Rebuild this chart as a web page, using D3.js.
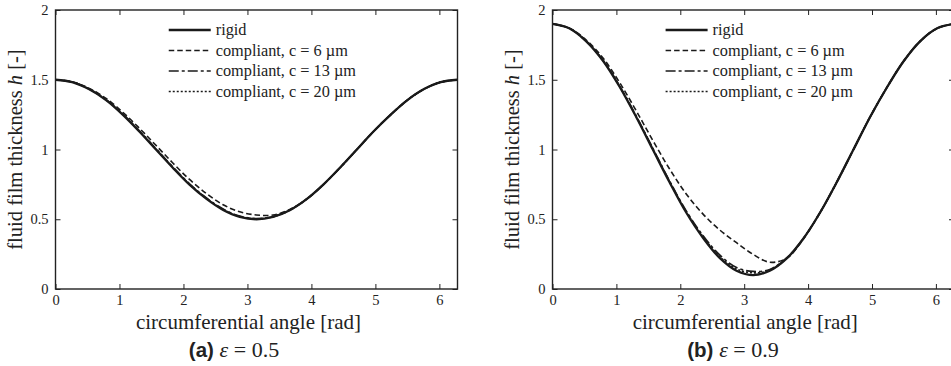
<!DOCTYPE html>
<html>
<head>
<meta charset="utf-8">
<script src="https://cdn.jsdelivr.net/npm/d3@7"></script>
<style>
  body { margin: 0; background: #fff; }
  svg { display: block; }
</style>
</head>
<body>
<svg id="chart" width="951" height="366"></svg>
<script>
// angle grid [rad], read at ~pi/12 steps
const theta = [0, 0.26, 0.52, 0.79, 1.05, 1.31, 1.57, 1.83, 2.09, 2.36, 2.62, 2.88, 3.14,
  3.40, 3.67, 3.93, 4.19, 4.45, 4.71, 4.97, 5.24, 5.50, 5.76, 6.02, 6.28];

// (a) eps = 0.5
const rigidA = [1.5, 1.483, 1.433, 1.354, 1.25, 1.129, 1.0, 0.871, 0.75, 0.646, 0.567, 0.517, 0.5,
  0.517, 0.567, 0.646, 0.75, 0.871, 1.0, 1.129, 1.25, 1.354, 1.433, 1.483, 1.5];
const c6A = [1.5, 1.486, 1.440, 1.366, 1.268, 1.153, 1.030, 0.905, 0.787, 0.684, 0.604, 0.553, 0.531,
  0.530, 0.572, 0.646, 0.75, 0.871, 1.0, 1.129, 1.25, 1.354, 1.433, 1.483, 1.5];
const c13A = [1.5, 1.484, 1.436, 1.358, 1.255, 1.134, 1.006, 0.877, 0.756, 0.652, 0.573, 0.522, 0.505,
  0.519, 0.568, 0.646, 0.75, 0.871, 1.0, 1.129, 1.25, 1.354, 1.433, 1.483, 1.5];
const c20A = [1.5, 1.484, 1.435, 1.356, 1.253, 1.132, 1.003, 0.874, 0.753, 0.649, 0.570, 0.520, 0.503,
  0.518, 0.567, 0.646, 0.75, 0.871, 1.0, 1.129, 1.25, 1.354, 1.433, 1.483, 1.5];

// (b) eps = 0.9
const rigidB = [1.9, 1.869, 1.779, 1.636, 1.45, 1.233, 1.0, 0.767, 0.55, 0.364, 0.221, 0.131, 0.1,
  0.131, 0.221, 0.364, 0.55, 0.767, 1.0, 1.233, 1.45, 1.636, 1.779, 1.869, 1.9];
const c6B = [1.9, 1.872, 1.788, 1.656, 1.480, 1.278, 1.065, 0.862, 0.683, 0.535, 0.422, 0.332, 0.248,
  0.192, 0.222, 0.362, 0.55, 0.767, 1.0, 1.233, 1.45, 1.636, 1.779, 1.869, 1.9];
const c13B = [1.9, 1.870, 1.781, 1.640, 1.456, 1.240, 1.008, 0.776, 0.562, 0.380, 0.242, 0.154, 0.126,
  0.140, 0.225, 0.364, 0.55, 0.767, 1.0, 1.233, 1.45, 1.636, 1.779, 1.869, 1.9];
const c20B = [1.9, 1.869, 1.780, 1.638, 1.453, 1.236, 1.004, 0.771, 0.556, 0.372, 0.232, 0.143, 0.116,
  0.135, 0.222, 0.364, 0.55, 0.767, 1.0, 1.233, 1.45, 1.636, 1.779, 1.869, 1.9];

const seriesNames = ['rigid', 'compliant, c = 6 \u00b5m', 'compliant, c = 13 \u00b5m', 'compliant, c = 20 \u00b5m'];
const xTicks = [0, 1, 2, 3, 4, 5, 6];
const yTicks = [0, 0.5, 1, 1.5, 2];
const xTitle = 'circumferential angle [rad]';

const styles = [
  { dash: null, width: 2.3 },
  { dash: '5.5,3', width: 1.6 },
  { dash: '10,3,3,3', width: 1.7 },
  { dash: '2,2', width: 1.6 },
];

const serif = "'Liberation Serif', 'Times New Roman', serif";
const sans = "'Liberation Sans', Arial, sans-serif";
const ink = '#222';
const svg = d3.select('#chart');

function drawPanel(left, right, sets, label, eps, capX) {
  const top = 10, bottom = 289;
  const x = d3.scaleLinear().domain([0, 2 * Math.PI]).range([left, right]);
  const y = d3.scaleLinear().domain([0, 2]).range([bottom, top]);
  const g = svg.append('g');

  const fmt = d => String(d);
  const tick = 5;

  const styleAxis = sel => {
    sel.attr('font-family', serif);
    sel.select('.domain').remove();
    sel.selectAll('line').attr('stroke', ink).attr('stroke-width', 1);
    sel.selectAll('text').attr('font-family', serif).attr('font-size', 14.5).attr('fill', ink);
  };

  g.append('g').attr('transform', `translate(0,${bottom})`)
    .call(d3.axisBottom(x).tickValues(xTicks).tickFormat(fmt).tickSizeInner(-tick).tickSizeOuter(0).tickPadding(6))
    .call(styleAxis);
  g.append('g').attr('transform', `translate(0,${top})`)
    .call(d3.axisTop(x).tickValues(xTicks).tickFormat('').tickSizeInner(-tick).tickSizeOuter(0))
    .call(styleAxis);
  g.append('g').attr('transform', `translate(${left},0)`)
    .call(d3.axisLeft(y).tickValues(yTicks).tickFormat(fmt).tickSizeInner(-tick).tickSizeOuter(0).tickPadding(7))
    .call(styleAxis);
  g.append('g').attr('transform', `translate(${right},0)`)
    .call(d3.axisRight(y).tickValues(yTicks).tickFormat('').tickSizeInner(-tick).tickSizeOuter(0))
    .call(styleAxis);

  const line = d3.line()
    .x((d, i) => x(theta[i]))
    .y(d => y(d))
    .curve(d3.curveCatmullRom.alpha(0.5));

  // compliant cases first, rigid on top
  [3, 2, 1, 0].forEach(k => {
    g.append('path')
      .attr('d', line(sets[k]))
      .attr('fill', 'none')
      .attr('stroke', '#1a1a1a')
      .attr('stroke-width', styles[k].width)
      .attr('stroke-dasharray', styles[k].dash);
  });

  g.append('rect')
    .attr('x', left).attr('y', top)
    .attr('width', right - left).attr('height', bottom - top)
    .attr('fill', 'none').attr('stroke', ink).attr('stroke-width', 1.4);

  // legend
  const lx = x(1.77), ly = 30;
  seriesNames.forEach((name, i) => {
    const row = g.append('g').attr('transform', `translate(${lx},${ly + i * 20.5})`);
    row.append('line').attr('x1', 0).attr('x2', 42).attr('y1', 0).attr('y2', 0)
      .attr('stroke', '#1a1a1a')
      .attr('stroke-width', styles[i].width)
      .attr('stroke-dasharray', styles[i].dash);
    row.append('text').attr('x', 47).attr('y', 0).attr('dy', '0.32em')
      .attr('font-family', serif).attr('font-size', 16.3).attr('fill', ink)
      .text(name);
  });

  const cx = (left + right) / 2;
  g.append('text')
    .attr('x', cx - 8).attr('y', 329)
    .attr('text-anchor', 'middle')
    .attr('font-family', serif).attr('font-size', 21).attr('fill', ink)
    .text(xTitle);

  const yt = g.append('text')
    .attr('transform', `translate(${left - 34},${(top + bottom) / 2}) rotate(-90)`)
    .attr('text-anchor', 'middle')
    .attr('font-family', serif).attr('font-size', 20.5).attr('fill', ink);
  yt.append('tspan').text('fluid film thickness ');
  yt.append('tspan').attr('font-style', 'italic').text('h');
  yt.append('tspan').text(' [-]');

  const cap = g.append('text')
    .attr('x', capX).attr('y', 357)
    .attr('text-anchor', 'middle')
    .attr('fill', ink);
  cap.append('tspan').attr('font-family', sans).attr('font-weight', 'bold').attr('font-size', 20.5).text(label + ' ');
  cap.append('tspan').attr('font-family', serif).attr('font-style', 'italic').attr('font-size', 22).text('\u03b5');
  cap.append('tspan').attr('font-family', serif).attr('font-size', 22).text(' = ' + eps);
}

drawPanel(55.5, 457.5, [rigidA, c6A, c13A, c20A], '(a)', '0.5', 234);
drawPanel(552.5, 954, [rigidB, c6B, c13B, c20B], '(b)', '0.9', 733);
</script>
</body>
</html>
